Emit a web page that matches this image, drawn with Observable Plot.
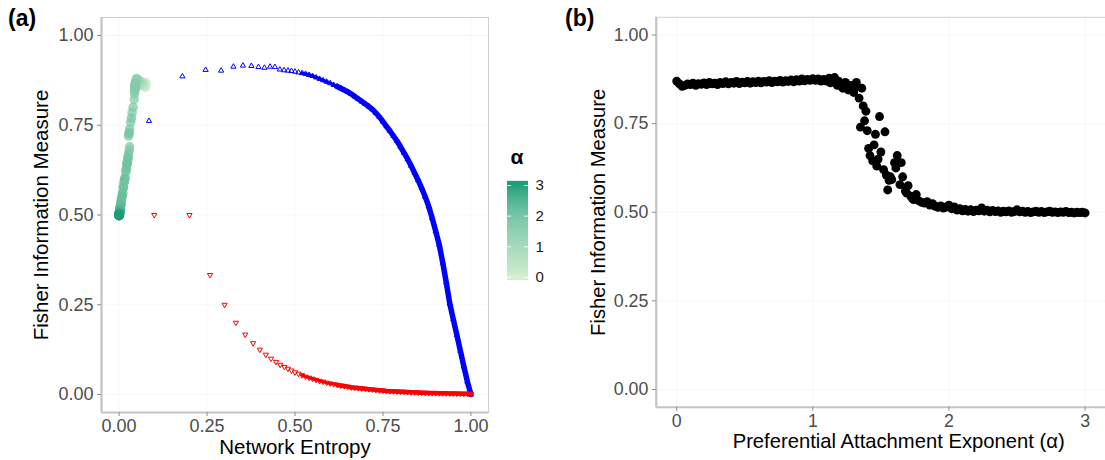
<!DOCTYPE html>
<html><head><meta charset="utf-8">
<script src="https://cdn.jsdelivr.net/npm/d3@7"></script>
<script src="https://cdn.jsdelivr.net/npm/@observablehq/plot@0.6"></script>
<style>
html,body{margin:0;padding:0;background:#fff;overflow:hidden;}
#wrap{position:relative;width:1105px;height:460px;overflow:hidden;font-family:"Liberation Sans",Arial,Helvetica,sans-serif;}
.panel{position:absolute;top:0;}
.tag{position:absolute;font-weight:bold;font-size:23px;color:#000;line-height:1;}
</style></head><body>
<div id="wrap">
 <div id="pa" class="panel" style="left:0px"></div>
 <div id="leg" class="panel" style="left:495px;top:140px"></div>
 <div id="pb" class="panel" style="left:560px"></div>
 <div class="tag" style="left:8px;top:7px">(a)</div>
 <div class="tag" style="left:565px;top:7px">(b)</div>
</div>
<script>
// ---------- Data ----------
// Preferential attachment exponent (alpha), Fisher information, network entropy
const alphaVals = [0,0.02,0.04,0.06,0.08,0.10,0.12,0.14,0.16,0.18,0.20,0.22,0.24,0.26,0.28,0.30,0.32,0.34,0.36,0.38,0.40,0.42,0.44,0.46,0.48,0.50,0.52,0.54,0.56,0.58,0.60,0.62,0.64,0.66,0.68,0.70,0.72,0.74,0.76,0.78,0.80,0.82,0.84,0.86,0.88,0.90,0.92,0.94,0.96,0.98,1.00,1.02,1.04,1.06,1.08,
 1.10,1.12,1.13,1.14,1.16,1.18,1.19,1.20,1.22,1.24,1.25,1.26,1.28,1.30,1.31,1.32,1.34,1.35,1.36,1.37,1.38,1.39,1.40,1.41,1.42,1.44,1.45,1.46,1.47,1.48,1.49,1.50,1.52,1.53,1.54,1.55,1.56,1.57,1.58,1.60,1.61,1.62,1.64,1.65,1.66,1.68,1.69,1.70,1.72,1.73,1.74,1.76,1.78,1.80,1.82,1.84,1.86,1.88,1.90,1.92,1.94,1.96,1.98,
 2.00,2.02,2.04,2.06,2.08,2.10,2.12,2.14,2.16,2.18,2.20,2.22,2.24,2.26,2.28,2.30,2.32,2.34,2.36,2.38,2.40,2.42,2.44,2.46,2.48,2.50,2.52,2.54,2.56,2.58,2.60,2.62,2.64,2.66,2.68,2.70,2.72,2.74,2.76,2.78,2.80,2.82,2.84,2.86,2.88,2.90,2.92,2.94,2.96,2.98,3.00];
const fisherVals = [0.870,0.862,0.855,0.858,0.862,0.860,0.864,0.858,0.863,0.861,0.865,0.860,0.866,0.862,0.864,0.860,0.866,0.863,0.868,0.862,0.866,0.864,0.869,0.863,0.867,0.865,0.869,0.864,0.868,0.866,0.870,0.865,0.869,0.867,0.871,0.866,0.870,0.868,0.872,0.867,0.871,0.869,0.873,0.868,0.874,0.870,0.876,0.871,0.875,0.872,0.877,0.872,0.876,0.870,0.875,
 0.870,0.878,0.865,0.872,0.880,0.858,0.870,0.862,0.850,0.866,0.855,0.845,0.858,0.838,0.852,0.866,0.822,0.740,0.850,0.800,0.758,0.785,0.730,0.680,0.660,0.645,0.690,0.720,0.630,0.650,0.770,0.670,0.620,0.727,0.605,0.563,0.590,0.600,0.592,0.640,0.625,0.660,0.578,0.640,0.600,0.560,0.554,0.575,0.545,0.540,0.536,0.550,0.532,0.528,0.526,0.530,0.520,0.524,0.517,0.514,0.518,0.512,0.515,
 0.520,0.510,0.515,0.506,0.510,0.504,0.508,0.503,0.507,0.502,0.506,0.504,0.512,0.503,0.506,0.501,0.505,0.502,0.504,0.500,0.503,0.501,0.504,0.500,0.502,0.507,0.501,0.503,0.500,0.502,0.499,0.501,0.503,0.500,0.502,0.499,0.501,0.503,0.500,0.501,0.499,0.501,0.500,0.502,0.499,0.500,0.498,0.500,0.499,0.500,0.498];
const entropyVals = [0.077,0.075,0.076,0.073,0.074,0.072,0.075,0.071,0.073,0.070,0.072,0.069,0.071,0.068,0.070,0.067,0.069,0.066,0.068,0.065,0.067,0.064,0.066,0.063,0.065,0.062,0.064,0.061,0.063,0.060,0.062,0.059,0.061,0.058,0.060,0.057,0.059,0.056,0.058,0.055,0.057,0.054,0.056,0.053,0.055,0.052,0.054,0.051,0.053,0.050,0.052,0.049,0.051,0.048,0.050,
 0.049,0.050,0.047,0.048,0.049,0.046,0.047,0.046,0.045,0.046,0.045,0.044,0.045,0.044,0.045,0.046,0.043,0.030,0.045,0.040,0.033,0.037,0.029,0.029,0.026,0.023,0.030,0.027,0.021,0.024,0.035,0.027,0.019,0.028,0.017,0.010,0.014,0.016,0.015,0.022,0.020,0.025,0.012,0.022,0.016,0.010,0.009,0.012,0.007,0.006,0.006,0.008,0.005,0.005,0.004,0.005,0.003,0.004,0.003,0.002,0.003,0.002,0.002,
 0.003,0.002,0.002,0.001,0.002,0.001,0.001,0.001,0.001,0.000,0.001,0.001,0.002,0.001,0.001,0.000,0.001,0.000,0.001,0.000,0.001,0.000,0.001,0.000,0.000,0.001,0.000,0.001,0.000,0.000,0.000,0.000,0.001,0.000,0.000,0.000,0.000,0.001,0.000,0.000,0.000,0.000,0.000,0.000,0.000,0.000,0.000,0.000,0.000,0.000,0.000];

// Upper (blue) and lower (red) bounding curves: entropy vs Fisher information
const blueX = [0.085,0.180,0.246,0.290,0.325,0.352,0.376,0.396,0.413,0.429,0.443,0.457,0.469,
 0.48,0.49,0.50,0.51,0.52,0.53,0.54,0.55,0.56,0.57,0.58,0.59,0.60,0.61,0.62,0.63,0.64,0.65,0.66,0.67,0.68,0.69,0.70,0.71,0.72,0.73,0.74,0.75,0.76,0.77,0.78,0.79,0.80,0.81,0.82,0.83,0.84,0.85,0.86,0.87,0.88,0.89,0.90,0.91,0.92,0.93,0.94,0.95,0.96,0.97,0.98,0.99,1.00];
const blueY = [0.762,0.886,0.904,0.902,0.913,0.916,0.915,0.912,0.910,0.913,0.912,0.905,0.903,
 0.902,0.901,0.899,0.897,0.895,0.893,0.890,0.887,0.883,0.879,0.875,0.871,0.867,0.862,0.858,0.853,0.848,0.843,0.837,0.830,0.823,0.816,0.809,0.802,0.794,0.784,0.773,0.760,0.747,0.734,0.720,0.706,0.690,0.673,0.656,0.637,0.617,0.597,0.575,0.551,0.524,0.491,0.455,0.417,0.367,0.312,0.253,0.209,0.166,0.122,0.078,0.036,0.000];
const redX = [0.100,0.200,0.2585,0.300,0.332,0.3585,0.381,0.400,0.417,0.432,0.446,0.458,0.470,
 0.48,0.49,0.50,0.51,0.52,0.53,0.54,0.55,0.56,0.57,0.58,0.59,0.60,0.61,0.62,0.63,0.64,0.65,0.66,0.67,0.68,0.69,0.70,0.71,0.72,0.73,0.74,0.75,0.76,0.77,0.78,0.79,0.80,0.81,0.82,0.83,0.84,0.85,0.86,0.87,0.88,0.89,0.90,0.91,0.92,0.93,0.94,0.95,0.96,0.97,0.98,0.99,1.00];
const redY = [0.500,0.500,0.333,0.250,0.200,0.167,0.143,0.125,0.111,0.100,0.091,0.083,0.077,
 0.072,0.067,0.062,0.058,0.054,0.050,0.047,0.044,0.041,0.038,0.036,0.033,0.031,0.029,0.027,0.025,0.024,0.022,0.020,0.019,0.018,0.017,0.016,0.015,0.014,0.013,0.012,0.011,0.010,0.0095,0.009,0.0085,0.008,0.0075,0.007,0.0065,0.006,0.0055,0.005,0.0048,0.0045,0.0042,0.004,0.0037,0.0035,0.0033,0.003,0.0028,0.0027,0.0025,0.0023,0.0021,0.002];

const ticks01 = [0, 0.25, 0.5, 0.75, 1];
const ticksAlpha = [0, 1, 2, 3];
const legendTicks = [0, 1, 2, 3];
const xLabelA = "Network Entropy";
const xLabelB = "Preferential Attachment Exponent (α)";
const yLabel = "Fisher Information Measure";

// ---------- Tables ----------
const pts = alphaVals.map((a, i) => ({alpha: a, fisher: fisherVals[i], entropy: entropyVals[i]}));
const blue = blueX.map((x, i) => ({x, y: blueY[i]}));
const red = redX.map((x, i) => ({x, y: redY[i]}));

const triUp = {draw(ctx, size){ const s = Math.sqrt(size/Math.PI)*1.25; ctx.moveTo(0,-s); ctx.lineTo(s*0.866, s*0.5); ctx.lineTo(-s*0.866, s*0.5); ctx.closePath(); }};
const triDown = {draw(ctx, size){ const s = Math.sqrt(size/Math.PI)*1.25; ctx.moveTo(0,s); ctx.lineTo(s*0.866,-s*0.5); ctx.lineTo(-s*0.866,-s*0.5); ctx.closePath(); }};

const FONT = "Liberation Sans, Arial, Helvetica, sans-serif";
const greenScale = {type: "linear", domain: [0, 3], range: ["#d7efd1", "#1b9e77"]};
const baseStyle = {fontFamily: FONT, fontSize: "18px", color: "#4d4d4d", background: "transparent", overflow: "visible"};

function frameMarks(xd, yd, xt, yt, xfmt) {
  return [
    Plot.gridX(xt, {stroke: "#f7f7f7", strokeOpacity: 1}),
    Plot.gridY(yt, {stroke: "#f7f7f7", strokeOpacity: 1}),
    Plot.frame({stroke: "#cfcfcf", strokeWidth: 1}),
    Plot.ruleX([xd[0]], {stroke: "#c4c4c4", strokeWidth: 2.2}),
    Plot.ruleY([yd[0]], {stroke: "#c4c4c4", strokeWidth: 2.2}),
    Plot.axisX({ticks: xt, tickFormat: xfmt, tickSize: 4, tickPadding: 3, stroke: "#8a8a8a", fill: "#4d4d4d", fontSize: 18, label: null}),
    Plot.axisY({ticks: yt, tickFormat: d3.format(".2f"), tickSize: 4, tickPadding: 4, stroke: "#8a8a8a", fill: "#4d4d4d", fontSize: 18, label: null})
  ];
}

// ---------- Panel (a) ----------
const xdA = [-0.05, 1.05], yd = [-0.05, 1.05];
const chartA = Plot.plot({
  width: 560, height: 460,
  marginLeft: 101, marginRight: 72, marginTop: 17, marginBottom: 48,
  style: baseStyle,
  x: {domain: xdA, label: null},
  y: {domain: yd, label: null},
  color: greenScale,
  marks: [
    ...frameMarks(xdA, yd, ticks01, ticks01, d3.format(".2f")),
    Plot.line(blue.filter(d => d.x >= 0.52 && d.x <= 0.63), {x: "x", y: "y", stroke: "#0000ff", strokeWidth: 3.5}),
    Plot.line(blue.filter(d => d.x >= 0.62), {x: "x", y: "y", stroke: "#0000ff", strokeWidth: 5.5}),
    Plot.line(red.filter(d => d.x >= 0.52 && d.x <= 0.63), {x: "x", y: "y", stroke: "#ff0000", strokeWidth: 3}),
    Plot.line(red.filter(d => d.x >= 0.62), {x: "x", y: "y", stroke: "#ff0000", strokeWidth: 4.5}),
    Plot.dot(blue, {x: "x", y: "y", symbol: triUp, r: 2.4, stroke: "#0000ff", strokeWidth: 1, fill: "none"}),
    Plot.dot(red, {x: "x", y: "y", symbol: triDown, r: 2.4, stroke: "#ff0000", strokeWidth: 1, fill: "none"}),
    Plot.dot(pts, {x: "entropy", y: "fisher", fill: "alpha", r: 4.8, fillOpacity: 0.75, stroke: "none"}),
    Plot.text([xLabelA], {frameAnchor: "bottom", dy: 35, fontSize: 20.5, fill: "#000", lineAnchor: "middle", textAnchor: "middle"}),
    Plot.text([yLabel], {frameAnchor: "left", dx: -60, rotate: -90, fontSize: 20.5, fill: "#000", lineAnchor: "middle", textAnchor: "middle"})
  ]
});
document.getElementById("pa").appendChild(chartA);

// ---------- Legend (colour bar for alpha) ----------
const barCells = d3.range(0, 100).map(i => ({y1: -0.1 + i * 0.0323, y2: -0.1 + (i + 1) * 0.0323 + 0.005, v: Math.max(0, Math.min(3, -0.1 + (i + 0.5) * 0.0323))}));
const legend = Plot.plot({
  width: 80, height: 150,
  marginLeft: 12, marginRight: 47, marginTop: 45, marginBottom: 13,
  style: {...baseStyle, color: "#1a1a1a"},
  x: {domain: [0, 1], axis: null},
  y: {domain: [0, 3], axis: null},
  color: greenScale,
  marks: [
    Plot.rect(barCells, {x1: 0, x2: 1, y1: "y1", y2: "y2", fill: "v"}),
    Plot.ruleY(legendTicks, {x1: 0, x2: 0.2, stroke: "white", strokeOpacity: 0.8}),
    Plot.ruleY(legendTicks, {x1: 0.8, x2: 1, stroke: "white", strokeOpacity: 0.8}),
    Plot.text(legendTicks, {x: 1, y: d => d, text: d => String(d), dx: 7, textAnchor: "start", fontSize: 15, fill: "#1a1a1a"}),
    Plot.text(["α"], {frameAnchor: "top-left", dx: 3, dy: -28, textAnchor: "start", lineAnchor: "middle", fontSize: 21, fontWeight: "bold", fill: "#000"})
  ]
});
document.getElementById("leg").appendChild(legend);

// ---------- Panel (b) ----------
const xdB = [-0.15, 3.15];
const chartB = Plot.plot({
  width: 552, height: 460,
  marginLeft: 97, marginRight: 0, marginTop: 17, marginBottom: 48,
  style: baseStyle,
  x: {domain: xdB, label: null},
  y: {domain: yd, label: null},
  marks: [
    ...frameMarks(xdB, yd, ticksAlpha, ticks01, d3.format("d")),
    Plot.dot(pts, {x: "alpha", y: "fisher", r: 4.5, fill: "#000", stroke: "none"}),
    Plot.text([xLabelB], {frameAnchor: "bottom", dy: 35, dx: 18, fontSize: 20.5, fill: "#000", lineAnchor: "middle", textAnchor: "middle"}),
    Plot.text([yLabel], {frameAnchor: "left", dx: -59, rotate: -90, fontSize: 20.5, fill: "#000", lineAnchor: "middle", textAnchor: "middle"})
  ]
});
document.getElementById("pb").appendChild(chartB);
</script>
</body></html>
